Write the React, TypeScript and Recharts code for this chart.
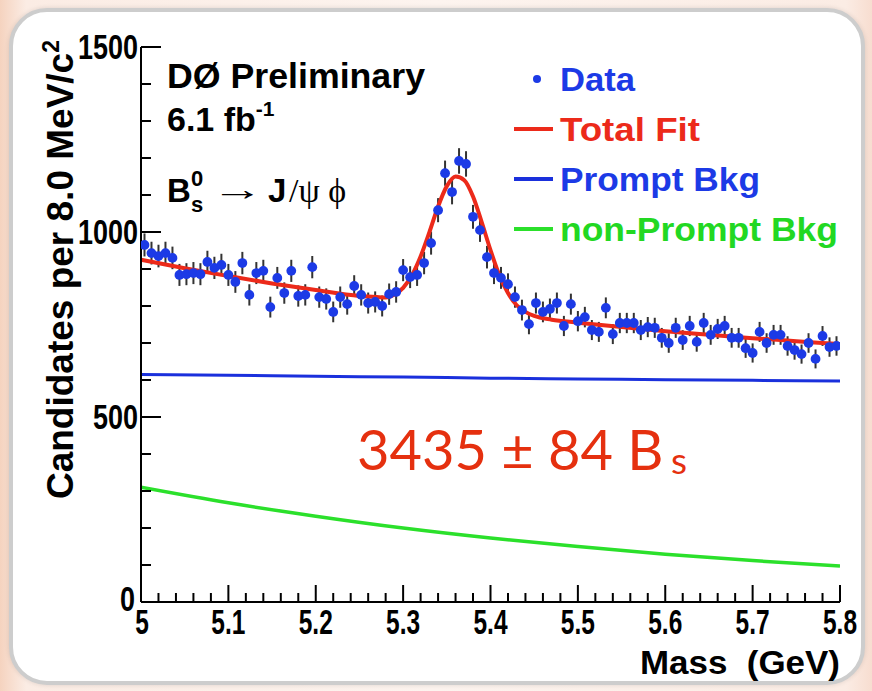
import React from 'react';
import { ComposedChart, Line, Scatter, XAxis, YAxis, ErrorBar } from 'recharts';

// ---- histogram definition (8 MeV bins from 5.0 to 5.8 GeV) ----
const binStart = 5.0;
const binWidth = 0.008;

// candidates per bin
const counts = [
  965, 943, 935, 943, 930, 884, 886, 889, 886, 919,
  903, 911, 884, 865, 916, 830, 889, 895, 797, 876,
  835, 895, 827, 830, 905, 824, 819, 784, 824, 805,
  854, 830, 808, 811, 800, 832, 838, 897, 878, 884,
  916, 970, 1059, 1159, 1108, 1192, 1184, 1041, 1005, 932,
  889, 876, 859, 824, 789, 751, 808, 784, 792, 808,
  746, 805, 759, 770, 735, 730, 795, 724, 754, 754,
  754, 735, 743, 741, 714, 700, 741, 708, 746, 703,
  754, 722, 738, 746, 714, 714, 686, 673, 730, 700,
  722, 722, 692, 681, 670, 700, 657, 719, 689, 692,
];

// total fit curve
const fitMass = [5.0, 5.05, 5.1, 5.15, 5.2, 5.25, 5.27, 5.28, 5.29, 5.3, 5.31, 5.32, 5.33, 5.34, 5.35, 5.36, 5.37, 5.38, 5.39, 5.4, 5.41, 5.42, 5.43, 5.44, 5.45, 5.47, 5.5, 5.55, 5.6, 5.65, 5.7, 5.75, 5.8];
const fitTotal = [925, 902, 881, 861, 843, 827, 824, 823, 831, 849, 883, 934, 999, 1069, 1124, 1150, 1140, 1096, 1026, 951, 884, 835, 802, 784, 773, 763, 755, 743, 732, 722, 713, 705, 697];

// background components
const bkgMass = [5.0, 5.1, 5.2, 5.3, 5.4, 5.5, 5.6, 5.7, 5.8];
const promptBkg = [615, 613, 610, 608, 605, 603, 601, 599, 597];
const nonPromptBkg = [310, 268, 232, 200, 173, 150, 129, 112, 97];

// axis ticks
const xMajorTicks = [5.0, 5.1, 5.2, 5.3, 5.4, 5.5, 5.6, 5.7, 5.8];
const xMinorStep = 0.02;
const yMajorTicks = [0, 500, 1000, 1500];
const yMinorStep = 100;

const xTicks: number[] = [];
for (let k = 0; k <= Math.round((5.8 - 5.0) / xMinorStep); k++) xTicks.push(+(5.0 + k * xMinorStep).toFixed(2));
const yTicks: number[] = [];
for (let k = 0; k <= 1500 / yMinorStep; k++) yTicks.push(k * yMinorStep);

const points = counts.map((v, i) => ({
  m: +(binStart + binWidth * (i + 0.5)).toFixed(4),
  y: v,
  err: Math.sqrt(v),
}));
const fitData = fitMass.map((m, i) => ({ m, y: fitTotal[i] }));
const promptData = bkgMass.map((m, i) => ({ m, y: promptBkg[i] }));
const nonPromptData = bkgMass.map((m, i) => ({ m, y: nonPromptBkg[i] }));

const FONT = '"Liberation Sans", Arial, Helvetica, sans-serif';
const SERIF = '"Liberation Serif", "DejaVu Serif", serif';
const BLUE = '#1c3ae6';
const RED = '#ec2a1a';
const GREEN = '#2be02b';

const XTick = (props: any) => {
  const { x, y, payload } = props;
  const v = payload.value as number;
  const major = xMajorTicks.some((t) => Math.abs(t - v) < 1e-6);
  return (
    <g>
      <line x1={x} x2={x} y1={y} y2={y - (major ? 17 : 9)} stroke="#000" strokeWidth={2} />
      {major && (
        <text
          transform={`translate(${x + (v === 5 ? 1 : 0)},${y + 32}) scale(0.7,1)`}
          textAnchor="middle"
          fontFamily={FONT}
          fontWeight="bold"
          fontSize={35}
          fill="#000"
        >
          {String(+v.toFixed(1))}
        </text>
      )}
    </g>
  );
};

const YTick = (props: any) => {
  const { x, y, payload } = props;
  const v = payload.value as number;
  const major = yMajorTicks.includes(v);
  return (
    <g>
      <line x1={x} x2={x + (major ? 20 : 10)} y1={y} y2={y} stroke="#000" strokeWidth={2} />
      {major && (
        <text
          transform={`translate(${x - (v === 0 ? 6 : 3)},${y + (v === 0 ? 9 : 12)}) scale(0.77,1)`}
          textAnchor="end"
          fontFamily={FONT}
          fontWeight="bold"
          fontSize={35}
          fill="#000"
        >
          {String(v)}
        </text>
      )}
    </g>
  );
};

const Dot = (props: any) => {
  const { cx, cy } = props;
  if (cx == null || cy == null) return null;
  return <circle cx={cx} cy={cy} r={4.9} fill={BLUE} />;
};

export default function App() {
  return (
    <div
      style={{
        position: 'absolute',
        left: 0,
        top: 0,
        width: 872,
        height: 691,
        overflow: 'hidden',
        background: 'linear-gradient(90deg, #f5d3bf 0%, #fbece4 3%, #fdf4ef 50%, #fbece4 97%, #f7ddd0 100%)',
      }}
    >
      <div
        style={{
          position: 'absolute',
          left: 9,
          top: 8,
          width: 848,
          height: 669,
          border: '4px solid #cdcdcd',
          borderRadius: 38,
          background: '#ffffff',
          boxShadow: '0 0 5px rgba(0,0,0,0.12)',
        }}
      />
      <div style={{ position: 'absolute', left: 0, top: 0 }}>
        <ComposedChart width={872} height={691} margin={{ top: 47, right: 32, bottom: 29, left: 0 }}>
          <XAxis
            dataKey="m"
            type="number"
            domain={[5.0, 5.8]}
            allowDataOverflow
            ticks={xTicks}
            interval={0}
            tick={<XTick />}
            tickLine={false}
            tickSize={0}
            tickMargin={0}
            height={60}
            axisLine={{ stroke: '#000', strokeWidth: 2 }}
          />
          <XAxis
            xAxisId="top"
            dataKey="m"
            orientation="top"
            type="number"
            domain={[5.0, 5.8]}
            height={0}
            tick={false}
            tickLine={false}
            axisLine={{ stroke: '#000', strokeWidth: 2 }}
          />
          <YAxis
            type="number"
            domain={[0, 1500]}
            allowDataOverflow
            ticks={yTicks}
            interval={0}
            tick={<YTick />}
            tickLine={false}
            tickSize={0}
            tickMargin={0}
            width={141}
            axisLine={{ stroke: '#000', strokeWidth: 2 }}
          />
          <YAxis
            yAxisId="right"
            orientation="right"
            type="number"
            domain={[0, 1500]}
            width={0}
            tick={false}
            tickLine={false}
            axisLine={{ stroke: '#000', strokeWidth: 2 }}
          />
          <Scatter data={points} dataKey="y" shape={<Dot />} isAnimationActive={false}>
            <ErrorBar dataKey="err" direction="y" width={0} stroke="#333333" strokeWidth={2} isAnimationActive={false} />
          </Scatter>
          <Line data={promptData} dataKey="y" type="monotone" stroke="#1a30dc" strokeWidth={3} dot={false} isAnimationActive={false} />
          <Line data={nonPromptData} dataKey="y" type="monotone" stroke={GREEN} strokeWidth={3.5} dot={false} isAnimationActive={false} />
          <Line data={fitData} dataKey="y" type="monotone" stroke={RED} strokeWidth={4} dot={false} isAnimationActive={false} />
        </ComposedChart>
      </div>
      <svg
        width={872}
        height={691}
        style={{ position: 'absolute', left: 0, top: 0, pointerEvents: 'none' }}
      >
        {/* Y axis title */}
        <text
          transform="translate(73,40) rotate(-90)"
          textAnchor="end"
          fontFamily={FONT}
          fontWeight="bold"
          fontSize={37}
          fill="#000"
        >
          Candidates per 8.0 MeV/c<tspan dy={-14} fontSize={23}>2</tspan>
        </text>
        {/* X axis title */}
        <text x={840} y={674} textAnchor="end" fontFamily={FONT} fontWeight="bold" fontSize={34} fill="#000" textLength={200} lengthAdjust="spacingAndGlyphs" style={{ whiteSpace: 'pre' }}>
          {'Mass  (GeV)'}
        </text>
        {/* experiment labels */}
        <text x={167} y={88} fontFamily={FONT} fontWeight="bold" fontSize={35} fill="#000" textLength={258} lengthAdjust="spacingAndGlyphs">DØ Preliminary</text>
        <text x={167} y={131} fontFamily={FONT} fontWeight="bold" fontSize={34} fill="#000">
          6.1 fb<tspan dy={-15} fontSize={21}>-1</tspan>
        </text>
        <text x={167} y={202} fontFamily={FONT} fontWeight="bold" fontSize={33} fill="#000">B</text>
        <text x={191} y={186} fontFamily={FONT} fontWeight="bold" fontSize={22} fill="#000">0</text>
        <text x={191} y={212} fontFamily={FONT} fontWeight="bold" fontSize={22} fill="#000">s</text>
        <text x={211} y={200} fontFamily={SERIF} fontSize={32} fill="#000" textLength={52} lengthAdjust="spacingAndGlyphs">→</text>
        <text x={268} y={202} fontFamily={FONT} fontWeight="bold" fontSize={33} fill="#000">J</text>
        <text x={289} y={202} fontFamily={SERIF} fontSize={34} fill="#000">/ψ ϕ</text>
        {/* legend */}
        <circle cx={537} cy={79} r={4} fill={BLUE} />
        <text x={560} y={91} fontFamily={FONT} fontWeight="bold" fontSize={34} fill={BLUE} textLength={75} lengthAdjust="spacingAndGlyphs">Data</text>
        <line x1={514} x2={553} y1={129} y2={129} stroke={RED} strokeWidth={4} />
        <text x={560} y={141} fontFamily={FONT} fontWeight="bold" fontSize={34} fill={RED} textLength={140} lengthAdjust="spacingAndGlyphs">Total Fit</text>
        <line x1={514} x2={553} y1={179} y2={179} stroke="#1a30dc" strokeWidth={4} />
        <text x={560} y={191} fontFamily={FONT} fontWeight="bold" fontSize={34} fill={BLUE} textLength={200} lengthAdjust="spacingAndGlyphs">Prompt Bkg</text>
        <line x1={514} x2={553} y1={229} y2={229} stroke={GREEN} strokeWidth={4} />
        <text x={560} y={241} fontFamily={FONT} fontWeight="bold" fontSize={34} fill="#22d822" textLength={278} lengthAdjust="spacingAndGlyphs">non-Prompt Bkg</text>
        {/* signal yield */}
        <text x={357} y={470} fontFamily='Lato, "Open Sans", sans-serif' fontSize={56} fill="#e5300f" style={{ whiteSpace: 'pre' }}>
          {'3435 ± 84 B'}
        </text>
        <text x={671} y={474} fontFamily='Lato, "Open Sans", sans-serif' fontSize={37} fill="#e5300f">s</text>
      </svg>
    </div>
  );
}
